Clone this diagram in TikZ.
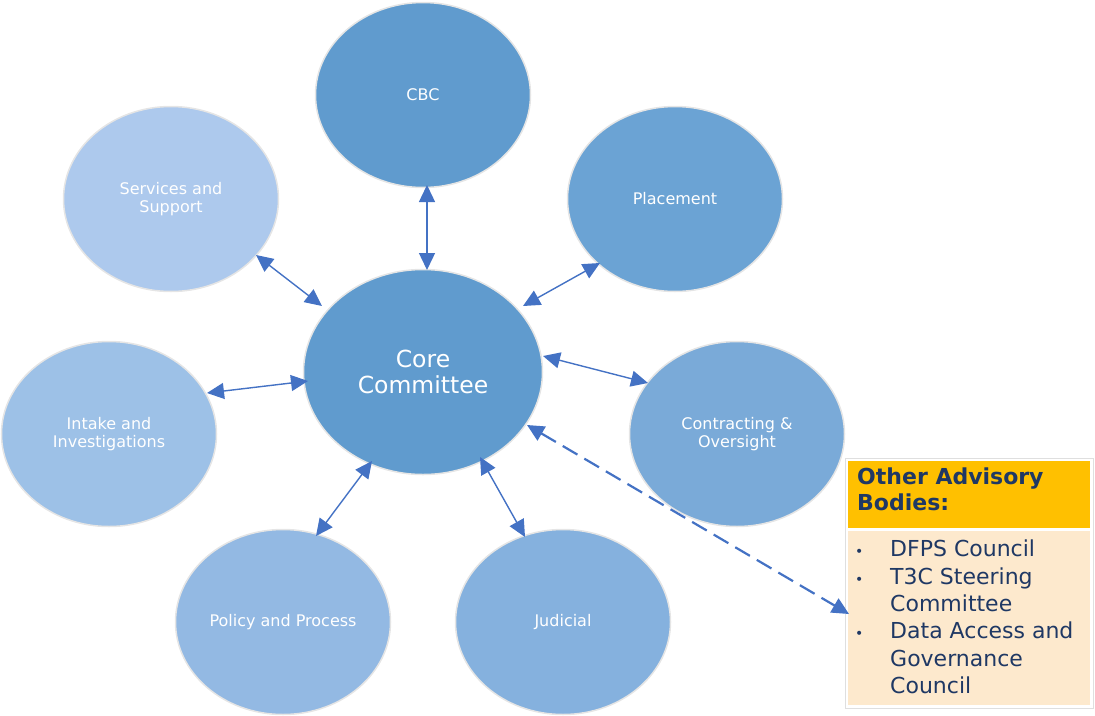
\documentclass[tikz,border=0pt]{standalone}
\usepackage{fontspec}
\setmainfont{DejaVu Sans}
\usetikzlibrary{arrows.meta,shapes.geometric}
\definecolor{cA}{RGB}{96,155,206}
\definecolor{cPl}{RGB}{107,163,212}
\definecolor{cCo}{RGB}{122,170,216}
\definecolor{cJu}{RGB}{133,177,222}
\definecolor{cPo}{RGB}{147,185,227}
\definecolor{cIn}{RGB}{157,193,231}
\definecolor{cSe}{RGB}{173,201,237}
\definecolor{arr}{RGB}{68,114,196}
\definecolor{navy}{RGB}{31,56,100}
\definecolor{gold}{RGB}{255,192,0}
\definecolor{peach}{RGB}{253,233,205}
\tikzset{
  bubble/.style={ellipse, draw=white!80!gray, line width=1.5pt, text=white, align=center,
    minimum width=215pt, minimum height=185pt, inner sep=0pt,
    font=\fontsize{16}{17.5}\selectfont},
  link/.style={draw=arr, line width=1.4pt, {Triangle[length=17pt,width=16pt]}-{Triangle[length=17pt,width=16pt]}},
  dlink/.style={link, line width=2.2pt, dash pattern=on 17pt off 8pt}
}
\begin{document}
\begin{tikzpicture}[x=1pt,y=-1pt]
\useasboundingbox (0,0) rectangle (1095,715);
\node[bubble, fill=cA] (cbc) at (423,95) {CBC};
\node[bubble, fill=cPl] (plac) at (675,199) {Placement};
\node[bubble, fill=cSe] (serv) at (171,199) {Services and\\Support};
\node[bubble, fill=cIn] (intake) at (109,434) {Intake and\\Investigations};
\node[bubble, fill=cCo] (contr) at (737,434) {Contracting \&\\Oversight};
\node[bubble, fill=cPo] (policy) at (283,622) {Policy and Process};
\node[bubble, fill=cJu] (jud) at (563,622) {Judicial};
\node[bubble, fill=cA, minimum width=239pt, minimum height=205pt,
  font=\fontsize{23.5}{26}\selectfont] (core) at (423,372) {Core\\Committee};

% advisory box
\node[draw=gray!25, line width=1pt, fill=white, minimum width=248pt, minimum height=250pt, inner sep=0pt] (box) at (969,583) {};
\node[fill=gold, minimum width=242pt, minimum height=67pt, inner sep=0pt] (head) at (969,494.5) {};
\node[fill=peach, minimum width=242pt, minimum height=174pt, inner sep=0pt] (body) at (969,618) {};
\node[anchor=north west, align=left, inner sep=0pt, text=navy,
  font=\bfseries\fontsize{22}{26}\selectfont] (htext) at (857,468) {Other Advisory\\Bodies:};
\node[anchor=north west, align=left, inner sep=0pt, text=navy,
  font=\fontsize{22}{27.3}\selectfont] (list) at (855,540)
  {\makebox[35pt][l]{\fontsize{14}{14}\selectfont•}DFPS Council\\
   \makebox[35pt][l]{\fontsize{14}{14}\selectfont•}T3C Steering\\
   \hspace*{35pt}Committee\\
   \makebox[35pt][l]{\fontsize{14}{14}\selectfont•}Data Access and\\
   \hspace*{35pt}Governance\\
   \hspace*{35pt}Council};

% connector end points
\coordinate (a1) at (427,185); \coordinate (b1) at (427,270);
\coordinate (a2) at (256,255); \coordinate (b2) at (322,306);
\coordinate (a3) at (600,263); \coordinate (b3) at (523,306);
\coordinate (a4) at (207,393); \coordinate (b4) at (308,381);
\coordinate (a5) at (648,383); \coordinate (b5) at (543,356);
\coordinate (a6) at (316,536); \coordinate (b6) at (372,461);
\coordinate (a7) at (525,537); \coordinate (b7) at (480,457);
\coordinate (a8) at (849,614); \coordinate (b8) at (527,425);

\draw[link] (a1) -- (b1);
\draw[link] (a2) -- (b2);
\draw[link] (a3) -- (b3);
\draw[link] (a4) -- (b4);
\draw[link] (a5) -- (b5);
\draw[link] (a6) -- (b6);
\draw[link] (a7) -- (b7);
\draw[dlink] (b8) -- (a8);
\end{tikzpicture}
\end{document}
